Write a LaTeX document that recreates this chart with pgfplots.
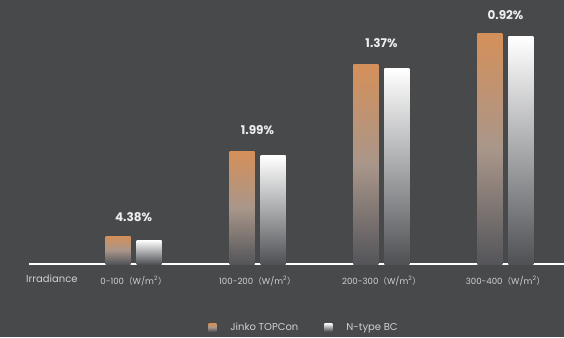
\documentclass[border=0pt]{standalone}
\usepackage{pgfplots}
\pgfplotsset{compat=1.18}
\usepackage{fontspec}
\setmainfont{Poppins}
\newfontfamily\cjk{Noto Sans CJK SC}
\definecolor{bg}{HTML}{48494B}
\definecolor{jor}{HTML}{D4905A}
\definecolor{jorm}{HTML}{A9968A}
\definecolor{jorb}{HTML}{54555A}
\definecolor{wt}{HTML}{FFFFFF}
\definecolor{wm}{HTML}{A8A9AB}
\definecolor{wb}{HTML}{505155}
\definecolor{txt}{HTML}{D0D0D0}
\definecolor{lbl}{HTML}{EEEEEE}
\newcommand{\unit}{{\cjk （}W/m\textsuperscript{2}{\cjk ）}}
\pgfplotsset{
  jbar/.style={ybar, bar width=25pt, bar shift=-15.5pt, draw=none, top color=jor, bottom color=jorb, middle color=jorm},
  nbar/.style={ybar, bar width=25pt, bar shift=15.5pt, draw=none, top color=wt, bottom color=wb, middle color=wm},
}
\begin{document}
\begin{tikzpicture}[x=1pt,y=1pt]
\fill[bg] (0,0) rectangle (564,337);
\begin{axis}[
  at={(29pt,73pt)}, anchor=south west, scale only axis,
  width=535pt, height=264pt,
  xmin=-0.843, xmax=3.472, ymin=0, ymax=264,
  axis x line=bottom, axis y line=none,
  x axis line style={-, draw=white, line width=1.6pt},
  xtick={0,1,2,3},
  xticklabels={0-100\unit, 100-200\unit, 200-300\unit, 300-400\unit},
  major tick length=0pt,
  xticklabel style={text=txt, font=\fontsize{8.6}{10}\selectfont, yshift=-9pt},
  clip=false,
  legend columns=2,
  legend style={at={(0.514,-0.2395)}, anchor=center, draw=none, fill=none,
    text=txt, font=\fontsize{10}{12}\selectfont,
    /tikz/every odd column/.append style={column sep=12pt},
    /tikz/every even column/.append style={column sep=24pt}},
]
% one plot per bar so each bar gets its own gradient
\addplot[jbar,
  legend image code/.code={\fill[top color=jor, bottom color=jorb, middle color=jorm] (0pt,-4pt) rectangle (8pt,4pt);}]
  coordinates {(0,28)};
\addlegendentry{Jinko TOPCon}
\addplot[nbar,
  legend image code/.code={\fill[top color=wt, bottom color=wb, middle color=wm] (0pt,-4pt) rectangle (8pt,4pt);}]
  coordinates {(0,24)};
\addlegendentry{N-type BC}
\addplot[jbar, forget plot] coordinates {(1,112)};
\addplot[jbar, forget plot] coordinates {(2,199)};
\addplot[jbar, forget plot] coordinates {(3,230)};
\addplot[nbar, forget plot] coordinates {(1,108)};
\addplot[nbar, forget plot] coordinates {(2,195)};
\addplot[nbar, forget plot] coordinates {(3,227)};
\node[text=lbl, font=\bfseries\fontsize{12}{13}\selectfont] at (axis cs:0,47) {4.38\%};
\node[text=lbl, font=\bfseries\fontsize{12}{13}\selectfont] at (axis cs:1,134) {1.99\%};
\node[text=lbl, font=\bfseries\fontsize{12}{13}\selectfont] at (axis cs:2,221) {1.37\%};
\node[text=lbl, font=\bfseries\fontsize{12}{13}\selectfont] at (axis cs:3,249) {0.92\%};
\end{axis}
\node[anchor=west, text=txt, font=\fontsize{10}{12}\selectfont, inner sep=0pt] at (26,58) {Irradiance};
\pgfresetboundingbox
\path[use as bounding box] (0,0) rectangle (564,337);
\end{tikzpicture}
\end{document}
